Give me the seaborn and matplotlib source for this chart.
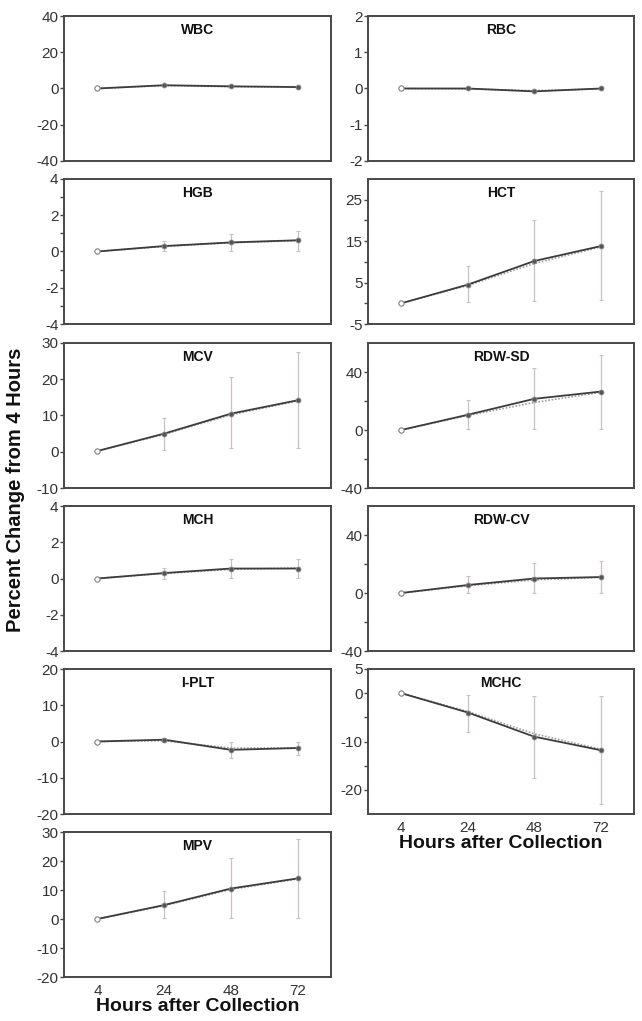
import numpy as np
import pandas as pd
import matplotlib
matplotlib.use("Agg")
import matplotlib.pyplot as plt
import seaborn as sns

sns.set_style("ticks")
plt.rcParams['font.family'] = ['Liberation Sans', 'DejaVu Sans']
plt.rcParams['axes.unicode_minus'] = False

hours = ["4", "24", "48", "72"]

# Mean percent change (solid series) and second (dotted) series, error bar low/high
WBC = [0.0, 1.8, 1.2, 0.8]
WBC_2 = [0.0, 1.6, 1.0, 0.7]
WBC_lo = [0.0, 1.4, 0.8, 0.4]
WBC_hi = [0.0, 2.2, 1.6, 1.2]

RBC = [0.0, 0.0, -0.08, 0.0]
RBC_2 = [0.0, -0.01, -0.06, -0.01]
RBC_lo = [0.0, -0.02, -0.12, -0.03]
RBC_hi = [0.0, 0.02, -0.04, 0.03]

HGB = [0.0, 0.3, 0.5, 0.62]
HGB_2 = [0.0, 0.28, 0.48, 0.6]
HGB_lo = [0.0, 0.0, 0.02, 0.05]
HGB_hi = [0.0, 0.6, 0.98, 1.15]

HCT = [0.0, 4.5, 10.2, 13.8]
HCT_2 = [0.0, 4.3, 9.6, 13.6]
HCT_lo = [0.0, 0.3, 0.5, 0.8]
HCT_hi = [0.0, 9.0, 20.0, 27.0]

MCV = [0.2, 5.0, 10.5, 14.2]
MCV_2 = [0.2, 4.8, 10.2, 14.0]
MCV_lo = [0.2, 0.5, 1.0, 1.0]
MCV_hi = [0.2, 9.3, 20.5, 27.5]

RDWSD = [0.0, 10.5, 21.5, 26.5]
RDWSD_2 = [0.0, 10.0, 19.0, 26.0]
RDWSD_lo = [0.0, 0.5, 1.0, 1.0]
RDWSD_hi = [0.0, 20.5, 43.0, 52.0]

MCH = [0.0, 0.3, 0.55, 0.55]
MCH_2 = [0.0, 0.28, 0.5, 0.58]
MCH_lo = [0.0, 0.0, 0.02, 0.05]
MCH_hi = [0.0, 0.6, 1.1, 1.1]

RDWCV = [0.0, 5.5, 10.0, 11.0]
RDWCV_2 = [0.0, 5.0, 9.0, 10.8]
RDWCV_lo = [0.0, 0.0, 0.0, 0.0]
RDWCV_hi = [0.0, 12.0, 21.0, 22.0]

IPLT = [0.0, 0.5, -2.3, -1.8]
IPLT_2 = [0.0, 0.2, -1.8, -1.8]
IPLT_lo = [0.0, 0.0, -4.5, -3.8]
IPLT_hi = [0.0, 0.9, 0.0, 0.0]

MCHC = [0.0, -4.0, -9.0, -11.8]
MCHC_2 = [0.0, -3.8, -8.4, -11.6]
MCHC_lo = [0.0, -8.0, -17.5, -23.0]
MCHC_hi = [0.0, -0.3, -0.5, -0.5]

MPV = [0.0, 4.8, 10.5, 14.0]
MPV_2 = [0.0, 4.6, 10.2, 13.8]
MPV_lo = [0.0, 0.3, 0.5, 0.5]
MPV_hi = [0.0, 9.5, 21.0, 27.5]

panels = [
    # name, solid, dotted, low, high, col, row, ylim, major ticks, minor ticks
    ("WBC", WBC, WBC_2, WBC_lo, WBC_hi, 0, 0, (-40, 40), [-40, -20, 0, 20, 40], []),
    ("RBC", RBC, RBC_2, RBC_lo, RBC_hi, 1, 0, (-2, 2), [-2, -1, 0, 1, 2], []),
    ("HGB", HGB, HGB_2, HGB_lo, HGB_hi, 0, 1, (-4, 4), [-4, -2, 0, 2, 4], [-3, -1, 1, 3]),
    ("HCT", HCT, HCT_2, HCT_lo, HCT_hi, 1, 1, (-5, 30), [-5, 5, 15, 25], [0, 10, 20]),
    ("MCV", MCV, MCV_2, MCV_lo, MCV_hi, 0, 2, (-10, 30), [-10, 0, 10, 20, 30], []),
    ("RDW-SD", RDWSD, RDWSD_2, RDWSD_lo, RDWSD_hi, 1, 2, (-40, 60), [-40, 0, 40], [-20, 20]),
    ("MCH", MCH, MCH_2, MCH_lo, MCH_hi, 0, 3, (-4, 4), [-4, -2, 0, 2, 4], []),
    ("RDW-CV", RDWCV, RDWCV_2, RDWCV_lo, RDWCV_hi, 1, 3, (-40, 60), [-40, 0, 40], [-20, 20]),
    ("I-PLT", IPLT, IPLT_2, IPLT_lo, IPLT_hi, 0, 4, (-20, 20), [-20, -10, 0, 10, 20], []),
    ("MCHC", MCHC, MCHC_2, MCHC_lo, MCHC_hi, 1, 4, (-25, 5), [-20, -10, 0, 5], [-15, -5]),
    ("MPV", MPV, MPV_2, MPV_lo, MPV_hi, 0, 5, (-20, 30), [-20, -10, 0, 10, 20, 30], []),
]

W, H = 642, 1021
fig = plt.figure(figsize=(W / 100, H / 100), dpi=100)
fig.patch.set_facecolor("white")

col_left = [64, 368]
col_w = [267, 266]
row_top = [16, 179, 343, 506, 669, 832]
ph = 145

pos = np.arange(len(hours))
spine_col = "#474747"
text_col = "#333333"

for name, y1, y2, lo, hi, c, r, ylim, major, minor in panels:
    left = col_left[c] / W
    bottom = 1 - (row_top[r] + ph) / H
    ax = fig.add_axes([left, bottom, col_w[c] / W, ph / H])
    df = pd.DataFrame({"pos": pos, "a": y1, "b": y2})
    y1 = np.array(y1)
    yerr = np.vstack([y1 - np.array(lo), np.array(hi) - y1])
    ax.errorbar(pos[1:], y1[1:], yerr=yerr[:, 1:], fmt="none", ecolor="#cbbfc1",
                elinewidth=0.9, capsize=1.2, capthick=0.8, zorder=1)
    sns.lineplot(data=df, x="pos", y="b", ax=ax, color="#a0a0a0", linestyle=(0, (1, 1)),
                 linewidth=1.2, zorder=2)
    sns.lineplot(data=df, x="pos", y="a", ax=ax, color="#3c3c3c", linewidth=1.3,
                 marker="o", markersize=3.5, markerfacecolor="#555555",
                 markeredgecolor="#888888", markeredgewidth=0.6, zorder=3)
    sns.scatterplot(x=pos[:1], y=y1[:1], ax=ax, s=14, facecolor="white",
                    edgecolor="#8a8a8a", linewidth=0.8, zorder=4)
    ax.set_xlim(-0.5, 3.5)
    ax.set_ylim(*ylim)
    ax.set_yticks(major)
    ax.set_yticks(minor, minor=True)
    ax.tick_params(axis="y", which="both", direction="out", length=3, width=1,
                   color=spine_col, labelsize=11, labelcolor=text_col, pad=1)
    ax.set_xticks(pos)
    if (c == 0 and r == 5) or (c == 1 and r == 4):
        ax.set_xticklabels(hours)
        ax.tick_params(axis="x", length=0, labelsize=11, labelcolor=text_col, pad=5)
        ax.set_xlabel("Hours after Collection", fontsize=14, fontweight="bold",
                      color="#111111", labelpad=0)
    else:
        ax.set_xticklabels([])
        ax.tick_params(axis="x", length=0)
        ax.set_xlabel("")
    ax.set_ylabel("")
    for s in ax.spines.values():
        s.set_visible(True)
        s.set_color(spine_col)
        s.set_linewidth(1.4)
    ax.text(0.5, 0.955, name, transform=ax.transAxes, ha="center", va="top",
            fontsize=10, fontweight="bold", color="#111111")

fig.text(16 / W, 1 - 490 / H, "Percent Change from 4 Hours", rotation=90,
         ha="center", va="center", fontsize=14.5, fontweight="bold", color="#111111")

fig.savefig("out.png", dpi=100, facecolor="white")
